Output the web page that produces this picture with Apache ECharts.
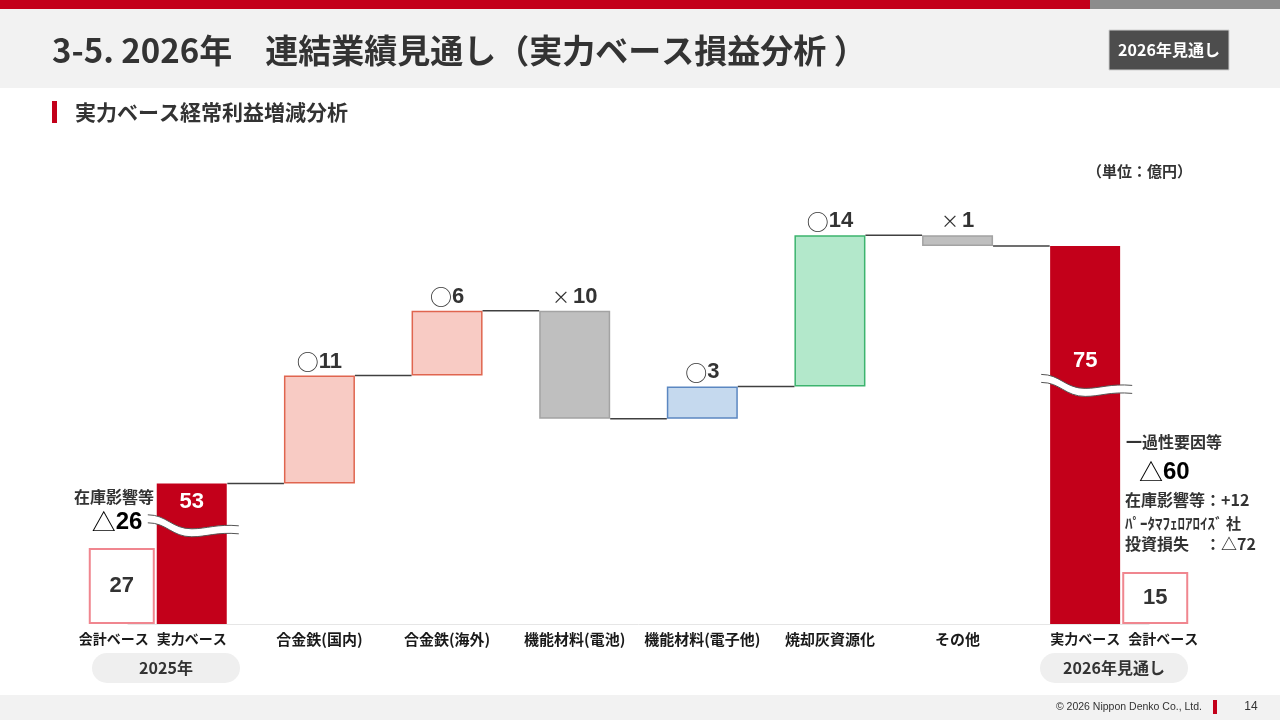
<!doctype html>
<html>
<head>
<meta charset="UTF-8">
<title>実力ベース経常利益増減分析</title>
<script src="https://cdn.jsdelivr.net/npm/echarts@6/dist/echarts.min.js"></script>
<style>
html,body{margin:0;padding:0;background:#fff;}
#main{width:1280px;height:720px;}
</style>
</head>
<body>
<div id="main"></div>
<script>
// ---- data ----
var categories = ['実力ベース', '合金鉄(国内)', '合金鉄(海外)', '機能材料(電池)', '機能材料(電子他)', '焼却灰資源化', 'その他', '実力ベース'];
var acctLabel = '会計ベース';
var startReal = 53;                       // 2025年 実力ベース
var endReal = 75;                         // 2026年見通し 実力ベース
var deltas = [10, 6, -10, 3, 14, -1];     // bar heights as drawn
var deltaFigures = [11, 6, 10, 3, 14, 1]; // figures printed above the bars
var acctValues = [27, 15];                // 会計ベース 2025 / 2026
var breakAt = [49, 62];                   // where the wavy break crosses each red bar

// ---- styles ----
var RED = '#c3001a';
var factorFill = ['#f8cbc4', '#f8cbc4', '#bfbfbf', '#c5d9ee', '#b3e8cb', '#bfbfbf'];
var factorLine = ['#e0654f', '#e0654f', '#a3a3a3', '#5b87c1', '#3cb46e', '#a3a3a3'];
var JP = '"Noto Sans CJK JP", sans-serif';
var NUM = '"Liberation Sans", Arial, sans-serif';

var n = categories.length;
// the two 実力ベース columns share a name, so the axes get unique keys
var catKeys = categories.map(function (c, i) { return 'c' + i; });

// waterfall levels
var levels = [startReal];
deltas.forEach(function (d, i) { levels.push(levels[i] + d); });

var baseData = [], deltaData = [], connectorData = [];
for (var i = 0; i < n; i++) {
  if (i === 0 || i === n - 1) { baseData.push('-'); deltaData.push('-'); continue; }
  var d = deltas[i - 1];
  baseData.push(Math.min(levels[i - 1], levels[i]));
  deltaData.push({
    value: Math.abs(d),
    mark: d > 0 ? '○' : '×',
    fig: deltaFigures[i - 1],
    itemStyle: { color: factorFill[i - 1], borderColor: factorLine[i - 1], borderWidth: 1.5 }
  });
}
for (var j = 0; j < n - 1; j++) connectorData.push([j, levels[j]]);

function pad(first, last) {
  var out = [];
  for (var k = 0; k < n; k++) out.push('-');
  if (first != null) out[0] = first;
  if (last != null) out[n - 1] = last;
  return out;
}

var HALF = 35.5; // half of the waterfall bar width

function wave(cx, cy) {
  // one wavy line of the break symbol, as cubic segments
  var p = [[-44, -8], [-25, -8], [-20, 6], [0, 6], [15, 6], [25, 1], [47, 3]];
  return p.map(function (q) { return [cx + q[0], cy + q[1]]; });
}
function pt(q) { return q[0].toFixed(1) + ' ' + q[1].toFixed(1); }

var acctStyle = { color: '#fff', borderColor: '#f0868f', borderWidth: 2 };
var acctLabelStyle = { show: true, position: 'inside', color: '#333', fontSize: 22, fontWeight: 'bold', fontFamily: NUM };

var myChart = echarts.init(document.getElementById('main'));
var option = {
  backgroundColor: '#fff',
  animation: false,
  grid: { left: 128, right: 131, top: 192, bottom: 96 },
  xAxis: [{
    type: 'category', data: catKeys,
    axisTick: { show: false },
    axisLine: { onZero: false, lineStyle: { color: '#e6e6e6', width: 1 } },
    axisLabel: {
      interval: 0, margin: 8, color: '#1a1a1a', fontSize: 14, fontWeight: 'bold', fontFamily: JP,
      formatter: function (v, idx) {
        var name = categories[idx];
        if (idx === 0) return '{w|' + acctLabel + '}{m|' + name + '}{p|}';
        if (idx === n - 1) return '{p|}{m|' + name + '}{w|' + acctLabel + '}';
        return '{c|' + name + '}';
      },
      rich: {
        w: { width: 86, align: 'center', fontSize: 14, fontWeight: 'bold', fontFamily: JP, color: '#1a1a1a' },
        m: { width: 70, align: 'center', fontSize: 14, fontWeight: 'bold', fontFamily: JP, color: '#1a1a1a' },
        p: { width: 86 },
        c: { fontSize: 15, fontWeight: 'bold', fontFamily: JP, color: '#1a1a1a' }
      }
    }
  }, {
    type: 'category', data: catKeys, show: false
  }],
  yAxis: [{
    type: 'value', min: 40, max: 80, show: false, splitLine: { show: false }
  }, {
    type: 'value', min: -11, max: 205, startValue: -11, show: false, splitLine: { show: false }
  }],
  series: [{
    name: 'base', type: 'bar', stack: 'wf', xAxisIndex: 0, yAxisIndex: 0,
    barWidth: 71, silent: true,
    itemStyle: { color: 'rgba(0,0,0,0)' },
    data: baseData
  }, {
    name: 'delta', type: 'bar', stack: 'wf', xAxisIndex: 0, yAxisIndex: 0,
    barWidth: 71,
    label: {
      show: true, position: 'top', distance: 3,
      formatter: function (p) {
        return (p.data.mark === '○' ? '{s|○}' : '{x|×}') + '{v|' + p.data.fig + '}';
      },
      rich: {
        s: { fontSize: 22, fontFamily: JP, fontWeight: 'normal', color: '#333' },
        x: { fontSize: 18, fontFamily: JP, fontWeight: 'normal', color: '#333', padding: [0, 3, 0, 0] },
        v: { fontSize: 22, fontFamily: NUM, fontWeight: 'bold', color: '#333' }
      }
    },
    data: deltaData
  }, {
    name: 'acct2025', type: 'bar', xAxisIndex: 1, yAxisIndex: 1,
    barWidth: 66, barGap: '3%', clip: false,
    itemStyle: acctStyle, label: acctLabelStyle,
    data: pad(acctValues[0], null)
  }, {
    name: 'real', type: 'bar', xAxisIndex: 1, yAxisIndex: 0,
    barWidth: 70, barGap: '3%',
    itemStyle: { color: RED },
    data: pad(startReal, endReal)
  }, {
    name: 'acct2026', type: 'bar', xAxisIndex: 1, yAxisIndex: 1,
    barWidth: 66, barGap: '3%', clip: false,
    itemStyle: acctStyle, label: acctLabelStyle,
    data: pad(null, acctValues[1])
  }, {
    name: 'connector', type: 'custom', xAxisIndex: 0, yAxisIndex: 0, z: 3, silent: true,
    renderItem: function (params, api) {
      var a = api.coord([api.value(0), api.value(1)]);
      var b = api.coord([api.value(0) + 1, api.value(1)]);
      return {
        type: 'line',
        shape: { x1: a[0] + HALF, y1: a[1], x2: b[0] - HALF, y2: a[1] },
        style: { stroke: '#404040', lineWidth: 1.5 }
      };
    },
    data: connectorData
  }, {
    name: 'break', type: 'custom', xAxisIndex: 0, yAxisIndex: 0, z: 10, silent: true,
    renderItem: function (params, api) {
      var c = api.coord([api.value(0), api.value(1)]);
      var t = wave(c[0], c[1] - 4), b = wave(c[0], c[1] + 4);
      var topD = 'M' + pt(t[0]) + ' C' + pt(t[1]) + ' ' + pt(t[2]) + ' ' + pt(t[3]) + ' C' + pt(t[4]) + ' ' + pt(t[5]) + ' ' + pt(t[6]);
      var botD = 'M' + pt(b[0]) + ' C' + pt(b[1]) + ' ' + pt(b[2]) + ' ' + pt(b[3]) + ' C' + pt(b[4]) + ' ' + pt(b[5]) + ' ' + pt(b[6]);
      var band = topD + ' L' + pt(b[6]) + ' C' + pt(b[5]) + ' ' + pt(b[4]) + ' ' + pt(b[3]) + ' C' + pt(b[2]) + ' ' + pt(b[1]) + ' ' + pt(b[0]) + ' Z';
      return {
        type: 'group',
        children: [
          { type: 'path', shape: { pathData: band }, style: { fill: '#fff', stroke: null } },
          { type: 'path', shape: { pathData: topD }, style: { fill: null, stroke: '#555', lineWidth: 1 } },
          { type: 'path', shape: { pathData: botD }, style: { fill: null, stroke: '#555', lineWidth: 1 } },
          { type: 'text', style: { text: String(api.value(2)), x: c[0], y: c[1] - 25, align: 'center', verticalAlign: 'middle',
            fill: '#fff', fontSize: 22, fontWeight: 'bold', fontFamily: NUM } }
        ]
      };
    },
    data: [[0, breakAt[0], startReal], [n - 1, breakAt[1], endReal]]
  }],
  graphic: [
    // header
    { type: 'rect', shape: { x: 0, y: 0, width: 1090, height: 9 }, style: { fill: RED } },
    { type: 'rect', shape: { x: 1090, y: 0, width: 190, height: 9 }, style: { fill: '#8c8c8c' } },
    { type: 'rect', shape: { x: 0, y: 9, width: 1280, height: 79 }, style: { fill: '#f2f2f2' } },
    { type: 'text', x: 52, y: 50, style: { text: '3-5. 2026年　連結業績見通し（実力ベース損益分析 ）', fill: '#333',
      fontSize: 33, fontWeight: 'bold', fontFamily: JP, verticalAlign: 'middle' } },
    { type: 'rect', shape: { x: 1109, y: 30, width: 120, height: 40 }, style: { fill: '#4d4d4d', stroke: '#d0d0d0', lineWidth: 1 } },
    { type: 'text', x: 1169, y: 50, style: { text: '2026年見通し', fill: '#fff', fontSize: 16, fontWeight: 'bold', fontFamily: JP,
      align: 'center', verticalAlign: 'middle' } },
    // sub title
    { type: 'rect', shape: { x: 52, y: 101, width: 5, height: 22 }, style: { fill: RED } },
    { type: 'text', x: 75, y: 112, style: { text: '実力ベース経常利益増減分析', fill: '#333', fontSize: 21, fontWeight: 'bold', fontFamily: JP,
      verticalAlign: 'middle' } },
    { type: 'text', x: 1192, y: 171, style: { text: '（単位：億円）', fill: '#333', fontSize: 15, fontWeight: 'bold', fontFamily: JP,
      align: 'right', verticalAlign: 'middle' } },
    // left note
    { type: 'text', x: 114, y: 497, style: { text: '在庫影響等', fill: '#333', fontSize: 16, fontWeight: 'bold', fontFamily: JP,
      align: 'center', verticalAlign: 'middle' } },
    { type: 'text', x: 117, y: 522, style: { text: '{s|△}{v|26}', align: 'center', verticalAlign: 'middle',
      rich: { s: { fontSize: 24, fontFamily: JP, color: '#333' }, v: { fontSize: 24, fontWeight: 'bold', fontFamily: NUM, color: '#333' } } } },
    // right note
    { type: 'text', x: 1126, y: 442, style: { text: '一過性要因等', fill: '#333', fontSize: 16, fontWeight: 'bold', fontFamily: JP,
      verticalAlign: 'middle' } },
    { type: 'text', x: 1139, y: 472, style: { text: '{s|△}{v|60}', verticalAlign: 'middle',
      rich: { s: { fontSize: 24, fontFamily: JP, color: '#333' }, v: { fontSize: 24, fontWeight: 'bold', fontFamily: NUM, color: '#333' } } } },
    { type: 'text', x: 1125, y: 500, style: { text: '在庫影響等：+12', fill: '#333', fontSize: 16, fontWeight: 'bold', fontFamily: JP,
      verticalAlign: 'middle' } },
    { type: 'text', x: 1125, y: 523, style: { text: 'ﾊﾟｰﾀﾏﾌｪﾛｱﾛｲｽﾞ 社', fill: '#333', fontSize: 15, fontWeight: 'bold', fontFamily: JP,
      verticalAlign: 'middle' } },
    { type: 'text', x: 1125, y: 544, style: { text: '投資損失　：△72', fill: '#333', fontSize: 16, fontWeight: 'bold', fontFamily: JP,
      verticalAlign: 'middle' } },
    // year pills
    { type: 'rect', shape: { x: 92, y: 653, width: 148, height: 30, r: 15 }, style: { fill: '#efefef' } },
    { type: 'text', x: 166, y: 668, style: { text: '2025年', fill: '#333', fontSize: 16, fontWeight: 'bold', fontFamily: JP,
      align: 'center', verticalAlign: 'middle' } },
    { type: 'rect', shape: { x: 1040, y: 653, width: 148, height: 30, r: 15 }, style: { fill: '#efefef' } },
    { type: 'text', x: 1114, y: 668, style: { text: '2026年見通し', fill: '#333', fontSize: 16, fontWeight: 'bold', fontFamily: JP,
      align: 'center', verticalAlign: 'middle' } },
    // footer
    { type: 'rect', shape: { x: 0, y: 695, width: 1280, height: 25 }, style: { fill: '#f2f2f2' } },
    { type: 'text', x: 1202, y: 707, style: { text: '© 2026 Nippon Denko Co., Ltd.', fill: '#333', fontSize: 10.5, fontFamily: NUM,
      align: 'right', verticalAlign: 'middle' } },
    { type: 'rect', shape: { x: 1213, y: 700, width: 4, height: 14 }, style: { fill: RED } },
    { type: 'text', x: 1251, y: 707, style: { text: '14', fill: '#333', fontSize: 12, fontFamily: NUM,
      align: 'center', verticalAlign: 'middle' } }
  ]
};
myChart.setOption(option);
window.onresize = function () {
  myChart.resize();
};
</script>
</body>
</html>
